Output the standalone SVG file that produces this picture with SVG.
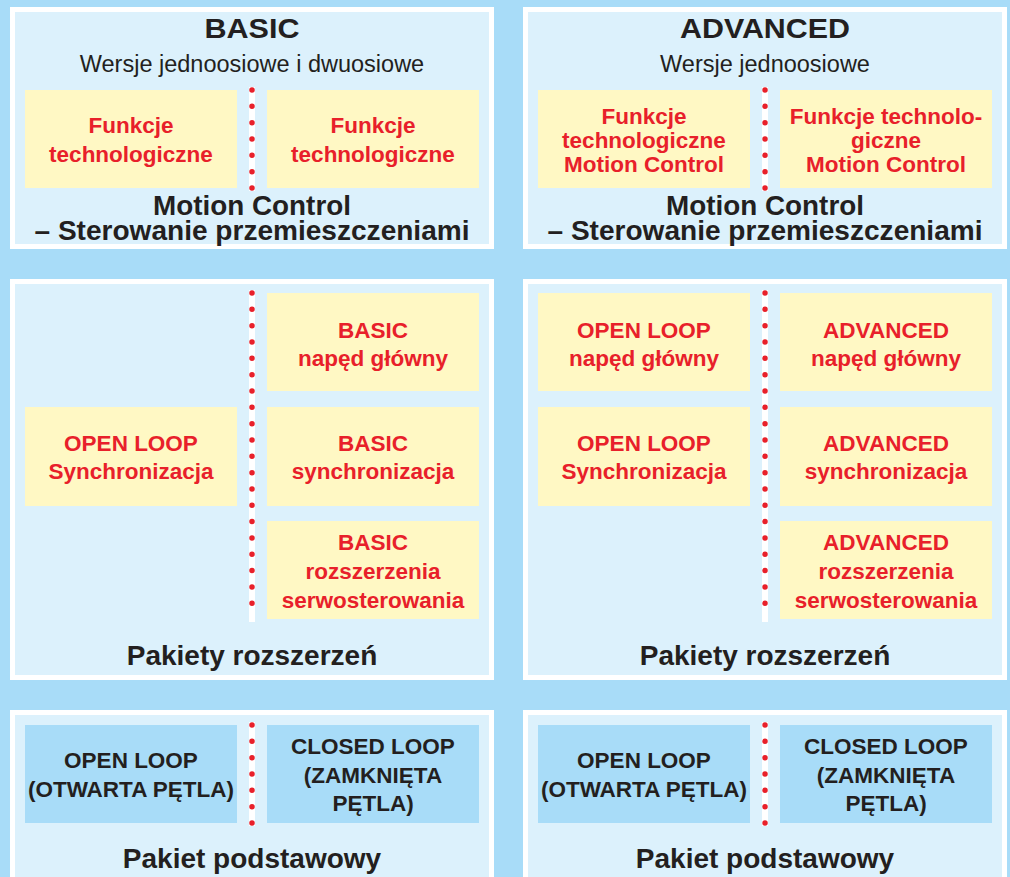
<svg xmlns="http://www.w3.org/2000/svg" width="1010" height="877" viewBox="0 0 1010 877">
<style>
.panel{fill:#dcf1fc;stroke:#ffffff;stroke-width:5}
.y{fill:#fff8c4}
.b{fill:#a8dcf8}
.stripe{fill:#ffffff}
.dots{stroke:#e8202a;stroke-width:5.5;stroke-linecap:round;stroke-dasharray:0 16.33;fill:none}
text{font-family:"Liberation Sans",Arial,sans-serif;text-anchor:middle}
.h1{font-size:28px;font-weight:bold;fill:#231f20}
.h2{font-size:23.5px;fill:#231f20}
.foot{font-size:28px;font-weight:bold;fill:#231f20}
.foot2{font-size:27px;font-weight:bold;fill:#231f20}
.r{font-size:22.5px;font-weight:bold;fill:#e8202a}
.k{font-size:22.5px;font-weight:bold;fill:#231f20}
</style>
<rect x="0" y="0" width="1010" height="877" fill="#a8dcf8"/>

<g id="panel-basic-top">
<rect class="panel" x="12.5" y="9.5" width="479" height="237"/>
<text class="h1" x="252" y="38" textLength="95" lengthAdjust="spacingAndGlyphs">BASIC</text>
<text class="h2" x="252" y="72">Wersje jednoosiowe i dwuosiowe</text>
<text class="foot2"><tspan x="252" y="215" textLength="198" lengthAdjust="spacingAndGlyphs">Motion Control</tspan><tspan x="252" y="240" textLength="435" lengthAdjust="spacingAndGlyphs">– Sterowanie przemieszczeniami</tspan></text>
</g>
<g id="node-basic-funkcje-1">
<rect class="y" x="25" y="90" width="212" height="98"/>
<text class="r"><tspan x="131" y="133">Funkcje</tspan><tspan x="131" y="162">technologiczne</tspan></text>
</g>
<g id="node-basic-funkcje-2">
<rect class="y" x="267" y="90" width="212" height="98"/>
<text class="r"><tspan x="373" y="133">Funkcje</tspan><tspan x="373" y="162">technologiczne</tspan></text>
</g>

<g id="panel-advanced-top">
<rect class="panel" x="525.5" y="9.5" width="479" height="237"/>
<text class="h1" x="765" y="38" textLength="170" lengthAdjust="spacingAndGlyphs">ADVANCED</text>
<text class="h2" x="765" y="72">Wersje jednoosiowe</text>
<text class="foot2"><tspan x="765" y="215" textLength="198" lengthAdjust="spacingAndGlyphs">Motion Control</tspan><tspan x="765" y="240" textLength="435" lengthAdjust="spacingAndGlyphs">– Sterowanie przemieszczeniami</tspan></text>
</g>
<g id="node-adv-funkcje-1">
<rect class="y" x="538" y="90" width="212" height="98"/>
<text class="r"><tspan x="644" y="124">Funkcje</tspan><tspan x="644" y="148">technologiczne</tspan><tspan x="644" y="172">Motion Control</tspan></text>
</g>
<g id="node-adv-funkcje-2">
<rect class="y" x="780" y="90" width="212" height="98"/>
<text class="r"><tspan x="886" y="124">Funkcje technolo-</tspan><tspan x="886" y="148">giczne</tspan><tspan x="886" y="172">Motion Control</tspan></text>
</g>

<g id="panel-basic-mid">
<rect class="panel" x="12.5" y="281.5" width="479" height="396"/>
<text class="foot" x="252" y="665">Pakiety rozszerzeń</text>
</g>
<g id="node-basic-openloop-sync">
<rect class="y" x="25" y="407" width="212" height="99"/>
<text class="r"><tspan x="131" y="451">OPEN LOOP</tspan><tspan x="131" y="479">Synchronizacja</tspan></text>
</g>
<g id="node-basic-naped">
<rect class="y" x="267" y="293" width="212" height="98"/>
<text class="r"><tspan x="373" y="338">BASIC</tspan><tspan x="373" y="366">napęd główny</tspan></text>
</g>
<g id="node-basic-sync">
<rect class="y" x="267" y="407" width="212" height="99"/>
<text class="r"><tspan x="373" y="451">BASIC</tspan><tspan x="373" y="479">synchronizacja</tspan></text>
</g>
<g id="node-basic-serwo">
<rect class="y" x="267" y="521" width="212" height="98"/>
<text class="r"><tspan x="373" y="550">BASIC</tspan><tspan x="373" y="579">rozszerzenia</tspan><tspan x="373" y="608">serwosterowania</tspan></text>
</g>

<g id="panel-advanced-mid">
<rect class="panel" x="525.5" y="281.5" width="479" height="396"/>
<text class="foot" x="765" y="665">Pakiety rozszerzeń</text>
</g>
<g id="node-adv-openloop-naped">
<rect class="y" x="538" y="293" width="212" height="98"/>
<text class="r"><tspan x="644" y="338">OPEN LOOP</tspan><tspan x="644" y="366">napęd główny</tspan></text>
</g>
<g id="node-adv-openloop-sync">
<rect class="y" x="538" y="407" width="212" height="99"/>
<text class="r"><tspan x="644" y="451">OPEN LOOP</tspan><tspan x="644" y="479">Synchronizacja</tspan></text>
</g>
<g id="node-adv-naped">
<rect class="y" x="780" y="293" width="212" height="98"/>
<text class="r"><tspan x="886" y="338">ADVANCED</tspan><tspan x="886" y="366">napęd główny</tspan></text>
</g>
<g id="node-adv-sync">
<rect class="y" x="780" y="407" width="212" height="99"/>
<text class="r"><tspan x="886" y="451">ADVANCED</tspan><tspan x="886" y="479">synchronizacja</tspan></text>
</g>
<g id="node-adv-serwo">
<rect class="y" x="780" y="521" width="212" height="98"/>
<text class="r"><tspan x="886" y="550">ADVANCED</tspan><tspan x="886" y="579">rozszerzenia</tspan><tspan x="886" y="608">serwosterowania</tspan></text>
</g>

<g id="panel-basic-bottom">
<rect class="panel" x="12.5" y="712.5" width="479" height="180"/>
<text class="foot" x="252" y="868">Pakiet podstawowy</text>
</g>
<g id="node-basic-open">
<rect class="b" x="25" y="725" width="212" height="98"/>
<text class="k"><tspan x="131" y="768">OPEN LOOP</tspan><tspan x="131" y="797">(OTWARTA PĘTLA)</tspan></text>
</g>
<g id="node-basic-closed">
<rect class="b" x="267" y="725" width="212" height="98"/>
<text class="k"><tspan x="373" y="754">CLOSED LOOP</tspan><tspan x="373" y="783">(ZAMKNIĘTA</tspan><tspan x="373" y="811">PĘTLA)</tspan></text>
</g>

<g id="panel-advanced-bottom">
<rect class="panel" x="525.5" y="712.5" width="479" height="180"/>
<text class="foot" x="765" y="868">Pakiet podstawowy</text>
</g>
<g id="node-adv-open">
<rect class="b" x="538" y="725" width="212" height="98"/>
<text class="k"><tspan x="644" y="768">OPEN LOOP</tspan><tspan x="644" y="797">(OTWARTA PĘTLA)</tspan></text>
</g>
<g id="node-adv-closed">
<rect class="b" x="780" y="725" width="212" height="98"/>
<text class="k"><tspan x="886" y="754">CLOSED LOOP</tspan><tspan x="886" y="783">(ZAMKNIĘTA</tspan><tspan x="886" y="811">PĘTLA)</tspan></text>
</g>

<g id="connectors">
<rect class="stripe" x="249" y="87" width="6" height="104"/>
<line class="dots" x1="252" y1="90" x2="252" y2="188"/>
<rect class="stripe" x="762" y="87" width="6" height="104"/>
<line class="dots" x1="765" y1="90" x2="765" y2="188"/>
<rect class="stripe" x="249" y="290" width="6" height="332"/>
<line class="dots" x1="252" y1="293" x2="252" y2="619"/>
<rect class="stripe" x="762" y="290" width="6" height="332"/>
<line class="dots" x1="765" y1="293" x2="765" y2="619"/>
<rect class="stripe" x="249" y="722" width="6" height="104"/>
<line class="dots" x1="252" y1="725" x2="252" y2="823"/>
<rect class="stripe" x="762" y="722" width="6" height="104"/>
<line class="dots" x1="765" y1="725" x2="765" y2="823"/>
</g>
</svg>
